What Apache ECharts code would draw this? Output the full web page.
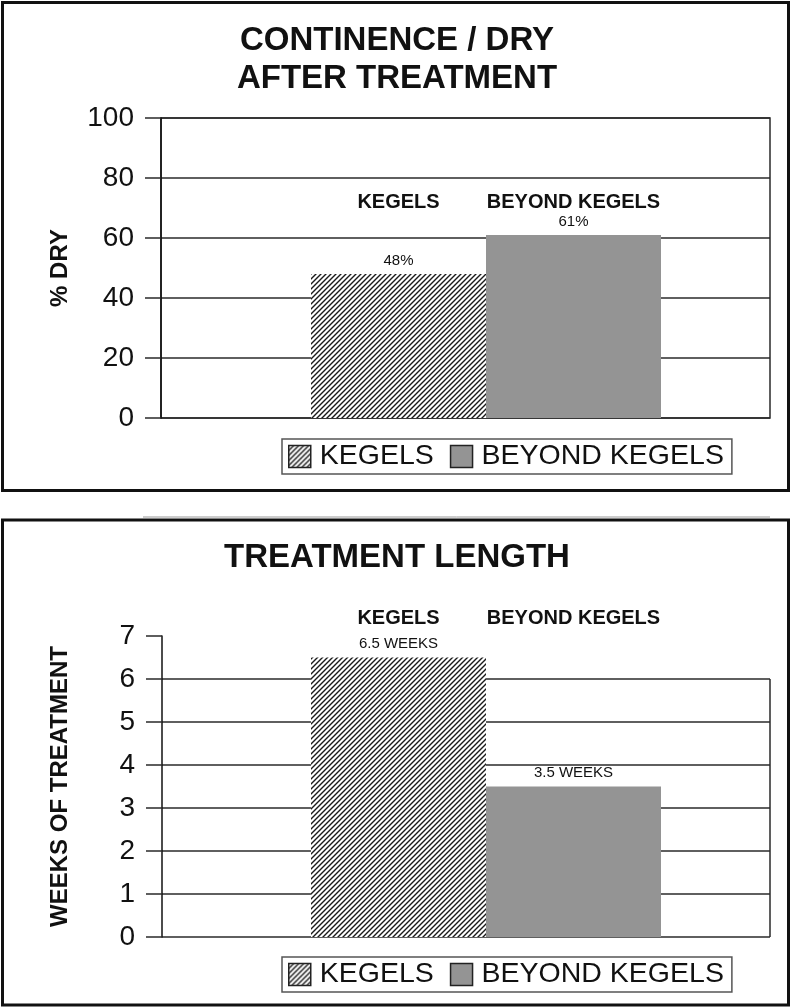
<!DOCTYPE html>
<html>
<head>
<meta charset="utf-8">
<script src="https://cdn.jsdelivr.net/npm/echarts@6/dist/echarts.min.js"></script>
<style>
  html, body { margin: 0; padding: 0; background: #fff; }
  #chart { width: 794px; height: 1008px; }
</style>
</head>
<body>
<div id="chart"></div>
<script>
// Series (treatment groups)
const seriesNames = ['KEGELS', 'BEYOND KEGELS'];

// Upper chart: share of patients dry after treatment (%)
const dryTitle = 'CONTINENCE / DRY\nAFTER TREATMENT';
const dryAxisName = '% DRY';
const dryValues = [48, 61];
const dryTicks = [0, 20, 40, 60, 80, 100];

// Lower chart: treatment length (weeks)
const weeksTitle = 'TREATMENT LENGTH';
const weeksAxisName = 'WEEKS OF TREATMENT';
const weeksValues = [6.5, 3.5];
const weeksTicks = [0, 1, 2, 3, 4, 5, 6, 7];

const FONT = "'Liberation Sans', Arial, Helvetica, sans-serif";
const INK = '#111';
const GRID_INK = '#2a2a2a';
const GREY = '#949494';
const BAR_W = 175;

// diagonal "////" hatching for the KEGELS bars
function hatchPattern() {
  const s = 5;
  const c = document.createElement('canvas');
  c.width = s; c.height = s;
  const g = c.getContext('2d');
  g.fillStyle = '#fff';
  g.fillRect(0, 0, s, s);
  g.strokeStyle = '#1a1a1a';
  g.lineWidth = 1.4;
  g.beginPath();
  g.moveTo(-1, s + 1); g.lineTo(s + 1, -1);
  g.moveTo(-1, 1); g.lineTo(1, -1);
  g.moveTo(s - 1, s + 1); g.lineTo(s + 1, s - 1);
  g.stroke();
  return { image: c, repeat: 'repeat' };
}
const HATCH = hatchPattern();
const seriesColors = [HATCH, GREY];

function valueAxis(gridIndex, ticks, name, visible, hideMaxLine, nameGap) {
  const min = ticks[0], max = ticks[ticks.length - 1];
  const interval = ticks[1] - ticks[0];
  if (!visible) {
    return { type: 'value', gridIndex, min, max, interval, show: false,
             splitLine: { show: false } };
  }
  return {
    type: 'value', gridIndex, min, max, interval,
    name, nameLocation: 'middle', nameRotate: 90, nameGap,
    nameTextStyle: { fontFamily: FONT, fontWeight: 'bold', fontSize: 24, color: INK },
    axisLine: { show: true, lineStyle: { color: INK, width: 1.5 } },
    axisTick: { show: true, inside: false, length: 16, lineStyle: { color: GRID_INK, width: 1.5 } },
    axisLabel: { margin: 27, fontFamily: FONT, fontSize: 28, color: INK },
    splitLine: { show: true, showMaxLine: !hideMaxLine, lineStyle: { color: GRID_INK, width: 1.5 } }
  };
}

function hiddenCategory(gridIndex) {
  return { type: 'category', gridIndex, data: ['all'], show: false,
           axisLine: { show: false }, axisTick: { show: false } };
}

function barSeries(axisIndex, values, fmt) {
  return seriesNames.map((name, i) => ({
    type: 'bar',
    name,
    xAxisIndex: axisIndex,
    yAxisIndex: axisIndex,
    barWidth: BAR_W,
    barGap: '0%',
    data: [values[i]],
    itemStyle: { color: seriesColors[i] },
    label: {
      show: true, position: 'top', distance: 6,
      fontFamily: FONT, fontSize: 15, color: INK,
      formatter: p => fmt(p.value)
    },
    emphasis: { disabled: true }
  }));
}

function legendAt(top) {
  return {
    top, left: 282,
    orient: 'horizontal',
    icon: 'rect',
    itemWidth: 22, itemHeight: 22, itemGap: 16,
    padding: [3, 8, 3, 6],
    borderColor: '#555', borderWidth: 1.5,
    selectedMode: false,
    textStyle: { fontFamily: FONT, fontSize: 28.5, color: INK, padding: [0, 0, 0, 4] },
    data: seriesNames.map(n => ({ name: n, itemStyle: { borderColor: '#222', borderWidth: 1.5 } }))
  };
}

const chart = echarts.init(document.getElementById('chart'), null, { renderer: 'canvas' });

const option = {
  backgroundColor: '#fff',
  animation: false,
  title: [
    { text: dryTitle, left: 'center', top: 17,
      textStyle: { fontFamily: FONT, fontWeight: 'bold', fontSize: 33, lineHeight: 38, color: INK } },
    { text: weeksTitle, left: 'center', top: 536,
      textStyle: { fontFamily: FONT, fontWeight: 'bold', fontSize: 33, color: INK } }
  ],
  legend: [legendAt(439), legendAt(957)],
  grid: [
    // upper chart: frame + gridlines, then the bar layer
    { left: 161, top: 118, width: 609, height: 300, show: true, borderColor: GRID_INK, borderWidth: 1.5, backgroundColor: 'transparent' },
    { left: 202, top: 118, width: 568, height: 300 },
    // lower chart
    { left: 162, top: 636, width: 608, height: 301 },
    { left: 202, top: 636, width: 568, height: 301 }
  ],
  xAxis: [hiddenCategory(0), hiddenCategory(1), hiddenCategory(2), hiddenCategory(3)],
  yAxis: [
    valueAxis(0, dryTicks, dryAxisName, true, false, 89),
    valueAxis(1, dryTicks, '', false),
    valueAxis(2, weeksTicks, weeksAxisName, true, true, 90),
    valueAxis(3, weeksTicks, '', false)
  ],
  series: [
    ...barSeries(1, dryValues, v => v + '%'),
    ...barSeries(3, weeksValues, v => v + ' WEEKS')
  ]
};
chart.setOption(option);

// group headings above each bar and the frame decorations
function headings(axisIndex, y) {
  const cx = chart.convertToPixel({ xAxisIndex: axisIndex }, 0);
  return seriesNames.map((name, i) => ({
    type: 'text',
    x: cx + (i === 0 ? -BAR_W / 2 : BAR_W / 2),
    y,
    style: { text: name, font: "bold 20px " + FONT, fill: INK, align: 'center', verticalAlign: 'middle' }
  }));
}
const lowerRight = 770;
const y6 = chart.convertToPixel({ yAxisIndex: 2 }, 6);
const y0 = chart.convertToPixel({ yAxisIndex: 2 }, 0);

chart.setOption({
  graphic: [
    ...headings(1, 202),
    ...headings(3, 618),
    { type: 'line', shape: { x1: lowerRight, y1: y6, x2: lowerRight, y2: y0 },
      style: { stroke: GRID_INK, lineWidth: 1.5 } },
    { type: 'rect', shape: { x: 2.5, y: 2.5, width: 786, height: 488 },
      style: { fill: 'none', stroke: INK, lineWidth: 3 } },
    { type: 'line', shape: { x1: 143, y1: 517, x2: 770, y2: 517 },
      style: { stroke: '#999', lineWidth: 1 } },
    { type: 'rect', shape: { x: 2.5, y: 520, width: 786, height: 485 },
      style: { fill: 'none', stroke: INK, lineWidth: 3 } }
  ]
});
</script>
</body>
</html>
